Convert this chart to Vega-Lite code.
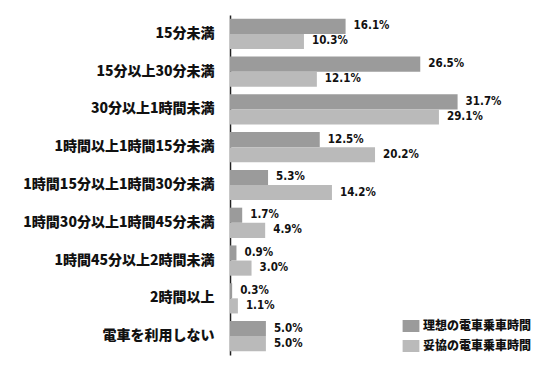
{
  "$schema": "https://vega.github.io/schema/vega-lite/v6.json",
  "width": 320,
  "height": 340,
  "autosize": "none",
  "padding": {"left": 230, "top": 15, "right": 0, "bottom": 20},
  "background": "white",
  "data": {"values": [
    {"cat": "15分未満", "series": "理想の電車乗車時間", "v": 16.1},
    {"cat": "15分未満", "series": "妥協の電車乗車時間", "v": 10.3},
    {"cat": "15分以上30分未満", "series": "理想の電車乗車時間", "v": 26.5},
    {"cat": "15分以上30分未満", "series": "妥協の電車乗車時間", "v": 12.1},
    {"cat": "30分以上1時間未満", "series": "理想の電車乗車時間", "v": 31.7},
    {"cat": "30分以上1時間未満", "series": "妥協の電車乗車時間", "v": 29.1},
    {"cat": "1時間以上1時間15分未満", "series": "理想の電車乗車時間", "v": 12.5},
    {"cat": "1時間以上1時間15分未満", "series": "妥協の電車乗車時間", "v": 20.2},
    {"cat": "1時間15分以上1時間30分未満", "series": "理想の電車乗車時間", "v": 5.3},
    {"cat": "1時間15分以上1時間30分未満", "series": "妥協の電車乗車時間", "v": 14.2},
    {"cat": "1時間30分以上1時間45分未満", "series": "理想の電車乗車時間", "v": 1.7},
    {"cat": "1時間30分以上1時間45分未満", "series": "妥協の電車乗車時間", "v": 4.9},
    {"cat": "1時間45分以上2時間未満", "series": "理想の電車乗車時間", "v": 0.9},
    {"cat": "1時間45分以上2時間未満", "series": "妥協の電車乗車時間", "v": 3.0},
    {"cat": "2時間以上", "series": "理想の電車乗車時間", "v": 0.3},
    {"cat": "2時間以上", "series": "妥協の電車乗車時間", "v": 1.1},
    {"cat": "電車を利用しない", "series": "理想の電車乗車時間", "v": 5.0},
    {"cat": "電車を利用しない", "series": "妥協の電車乗車時間", "v": 5.0}
  ]},
  "encoding": {
    "y": {
      "field": "cat", "type": "nominal", "sort": null,
      "scale": {"paddingInner": 0.2, "paddingOuter": 0.1},
      "axis": {
        "title": null, "ticks": false, "domainColor": "#222", "domainWidth": 1.5,
        "labelFont": "Noto Sans CJK JP", "labelFontWeight": 900, "labelFontSize": 14,
        "labelColor": "#111", "labelPadding": 16, "labelLimit": 240
      }
    },
    "yOffset": {"field": "series", "type": "nominal", "sort": ["理想の電車乗車時間", "妥協の電車乗車時間"]},
    "x": {"field": "v", "type": "quantitative", "scale": {"domain": [0, 44.57], "nice": false}, "axis": null}
  },
  "layer": [
    {
      "mark": {"type": "bar", "height": {"band": 1}},
      "encoding": {
        "color": {
          "field": "series", "type": "nominal", "sort": ["理想の電車乗車時間", "妥協の電車乗車時間"],
          "scale": {"range": ["#9b9b9b", "#bababa"]},
          "legend": {
            "title": null, "orient": "none", "legendX": 175, "legendY": 305,
            "symbolType": "M-1.4,-1L1.4,-1L1.4,1L-1.4,1Z", "symbolSize": 144, "symbolStrokeWidth": 0,
            "labelFont": "Noto Sans CJK JP", "labelFontWeight": 900, "labelFontSize": 12,
            "labelColor": "#111", "labelOffset": 6, "rowPadding": 8, "padding": 0
          }
        }
      }
    },
    {
      "mark": {"type": "text", "align": "left", "dx": 8, "font": "DejaVu Sans Condensed", "fontWeight": "bold", "fontSize": 11.5, "color": "#111",
        "text": {"expr": "format(datum.v, '.1f') + '%'"}}
    }
  ],
  "config": {"view": {"stroke": null}}
}
